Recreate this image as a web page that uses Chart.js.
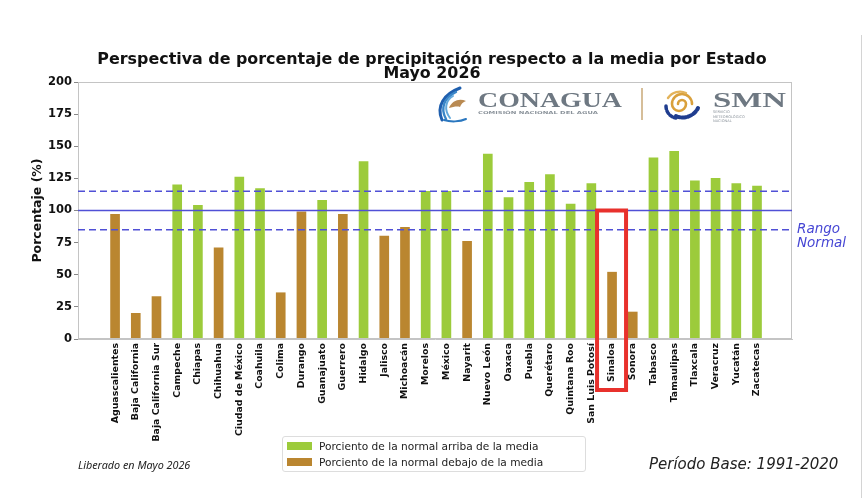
<!DOCTYPE html>
<html><head><meta charset="utf-8">
<script src="https://cdn.jsdelivr.net/npm/chart.js@4.4.1/dist/chart.umd.min.js"></script>
<style>
html,body{margin:0;padding:0;background:#fff;}
#wrap{position:relative;width:867px;height:498px;overflow:hidden;background:#fff;}
canvas{position:absolute;left:0;top:0;}
.t{position:absolute;white-space:nowrap;}
#title{left:0;width:864px;top:52px;text-align:center;font:bold 15.9px "DejaVu Sans",sans-serif;line-height:14px;color:#111;}
#legend{position:absolute;left:282px;top:436px;width:302px;height:34px;border:1px solid #ddd;border-radius:3px;background:#fff;}
.li{position:absolute;left:4px;font:10.6px "DejaVu Sans",sans-serif;color:#222;white-space:nowrap;}
.sw{display:inline-block;width:25px;height:8px;vertical-align:middle;margin-right:7px;position:relative;top:-1px;}
#lib{left:78px;top:457px;font:italic 10.8px "Noto Sans",sans-serif;color:#222;}
#base{left:649px;top:455px;font:oblique 15px "DejaVu Sans",sans-serif;color:#222;}
#vline{position:absolute;left:861px;top:35px;width:1px;height:463px;background:#d4d4d4;}
#logos{position:absolute;left:430px;top:84px;}
</style></head><body>
<div id="wrap">
<canvas id="c" width="867" height="498"></canvas>
<div class="t" id="title">Perspectiva de porcentaje de precipitación respecto a la media por Estado<br>Mayo 2026</div>
<svg id="logos" width="362" height="42" viewBox="0 0 362 42">
  <g fill="none" stroke-linecap="round">
    <path d="M30 4 C14 10 6 22 12 36" stroke="#1f5fae" stroke-width="3"/>
    <path d="M26 8 C14 14 10 24 16 35" stroke="#3a86c8" stroke-width="2.4"/>
    <path d="M23 12 C15 17 14 26 20 34" stroke="#63a9dc" stroke-width="2"/>
    <path d="M14 36 C20 38 30 38 36 35" stroke="#2a77bf" stroke-width="2"/>
  </g>
  <path d="M19 24 C22 16 30 14 36 17 C33 18 31 20 30 23 C27 22 23 23 19 24 Z" fill="#b98a52"/>
  <text x="48" y="23" textLength="144" lengthAdjust="spacingAndGlyphs" font-family="Liberation Serif" font-weight="bold" font-size="22" fill="#6e7882">CONAGUA</text>
  <text x="48" y="30" textLength="120" lengthAdjust="spacingAndGlyphs" font-family="DejaVu Sans" font-weight="bold" font-size="4" fill="#8a929a">COMISIÓN NACIONAL DEL AGUA</text>
  <line x1="212" y1="4" x2="212" y2="36" stroke="#c9a877" stroke-width="1.5"/>
  <g fill="none" stroke-linecap="round">
    <path d="M252 20 m-4 0 a4 4 0 1 1 8 0 a7 7 0 1 1 -14 0 a10 10 0 1 1 20 0" stroke="#d9a03c" stroke-width="2.6"/>
    <path d="M238 14 C242 8 250 6 256 9" stroke="#e3b35a" stroke-width="2.4"/>
    <path d="M246 32 C254 36 264 32 268 24" stroke="#1f3d8f" stroke-width="4" stroke-dasharray="4 2"/>
    <path d="M236 22 C236 28 240 33 246 34" stroke="#1f3d8f" stroke-width="3.5" stroke-dasharray="3 2"/>
  </g>
  <text x="283" y="23" textLength="73" lengthAdjust="spacingAndGlyphs" font-family="Liberation Serif" font-weight="bold" font-size="22" fill="#6e7882">SMN</text>
  <text x="283" y="29" font-family="DejaVu Sans" font-size="3.6" fill="#8a929a">SERVICIO</text>
  <text x="283" y="33.5" font-family="DejaVu Sans" font-size="3.6" fill="#8a929a">METEOROLÓGICO</text>
  <text x="283" y="38" font-family="DejaVu Sans" font-size="3.6" fill="#8a929a">NACIONAL</text>
</svg>
<div id="legend">
  <div class="li" style="top:3px"><span class="sw" id="sw0"></span><span id="lg0"></span></div>
  <div class="li" style="top:19px"><span class="sw" id="sw1"></span><span id="lg1"></span></div>
</div>
<div class="t" id="lib">Liberado en Mayo 2026</div>
<div class="t" id="base">Período Base: 1991-2020</div>
<div id="vline"></div>
</div>
<script>
const estados = ['Aguascalientes','Baja California','Baja California Sur','Campeche','Chiapas','Chihuahua','Ciudad de México','Coahuila','Colima','Durango','Guanajuato','Guerrero','Hidalgo','Jalisco','Michoacán','Morelos','México','Nayarit','Nuevo León','Oaxaca','Puebla','Querétaro','Quintana Roo','San Luis Potosí','Sinaloa','Sonora','Tabasco','Tamaulipas','Tlaxcala','Veracruz','Yucatán','Zacatecas'];
const porcentaje = [97,20,33,120,104,71,126,117,36,99,108,97,138,80,87,115,115,76,144,110,122,128,105,121,52,21,141,146,123,125,121,119];
const yTicks = [0,25,50,75,100,125,150,175,200];
const media = 100;
const rangoNormal = [85,115];
const estadoResaltado = 'Sinaloa';
const leyenda = ['Porciento de la normal arriba de la media','Porciento de la normal debajo de la media'];
const colorArriba = '#9ccb3b';
const colorDebajo = '#ba8630';
const colorLinea = '#5050d6';

document.getElementById('lg0').textContent = leyenda[0];
document.getElementById('lg1').textContent = leyenda[1];
document.getElementById('sw0').style.background = colorArriba;
document.getElementById('sw1').style.background = colorDebajo;

const extras = {
  id:'extras',
  afterDatasetsDraw(chart){
    const {ctx, chartArea:a, scales:{x,y}} = chart;
    ctx.save();
    ctx.strokeStyle = '#c4c4c4'; ctx.lineWidth = 1;
    ctx.strokeRect(a.left+0.5, a.top+0.5, a.right-a.left-1, a.bottom-a.top-1);
    ctx.strokeStyle = colorLinea; ctx.lineWidth = 1.5;
    const hl = (v, dash) => { const py = y.getPixelForValue(v); ctx.setLineDash(dash); ctx.beginPath(); ctx.moveTo(a.left, py); ctx.lineTo(a.right, py); ctx.stroke(); };
    hl(media, []);
    rangoNormal.forEach(v => hl(v, [7,4]));
    ctx.setLineDash([]);
    ctx.fillStyle = '#4646d4';
    ctx.font = 'italic 13.5px "DejaVu Sans"';
    ctx.textBaseline = 'middle'; ctx.textAlign = 'left';
    const ly = y.getPixelForValue(rangoNormal[0]);
    ctx.fillText('Rango', a.right + 5, ly);
    ctx.fillText('Normal', a.right + 5, ly + 14);
    ctx.restore();
  },
  afterDraw(chart){
    const {ctx, chartArea:a, scales:{x,y}} = chart;
    const i = estados.indexOf(estadoResaltado);
    const cx = x.getPixelForValue(i);
    const top = y.getPixelForValue(media);
    ctx.save();
    ctx.strokeStyle = '#e8312c'; ctx.lineWidth = 4;
    ctx.strokeRect(cx - 15, top, 29, a.bottom + 51 - top);
    ctx.restore();
  }
};

new Chart(document.getElementById('c'), {
  type:'bar',
  data:{
    datasets:[{
      data: porcentaje.map((v,i)=>({x:i, y:v})),
      backgroundColor: porcentaje.map(v => v > media ? colorArriba : colorDebajo),
      borderWidth: 0,
      barThickness: 9
    }]
  },
  options:{
    responsive:false, animation:false, devicePixelRatio:1,
    layout:{padding:{top:82, right:75, left:0, bottom:0}},
    plugins:{legend:{display:false}, tooltip:{enabled:false}},
    scales:{
      x:{
        type:'linear', min:-1.79, max:32.69, offset:false,
        grid:{drawOnChartArea:false, drawTicks:false},
        border:{color:'#c4c4c4'},
        afterBuildTicks: s => { s.ticks = estados.map((_,i)=>({value:i})); },
        afterFit: s => { s.height = 159; },
        ticks:{autoSkip:false, minRotation:90, maxRotation:90, padding:4, color:'#111',
          font:{family:'DejaVu Sans', weight:'bold', size:9.4},
          callback: v => estados[v]}
      },
      y:{
        min:0, max:200,
        afterBuildTicks: s => { s.ticks = yTicks.map(v=>({value:v})); },
        afterFit: s => { s.width = 78; },
        grid:{drawOnChartArea:false, tickLength:4, color:'#888'},
        border:{color:'#c4c4c4'},
        ticks:{padding:2, color:'#111', font:{family:'DejaVu Sans', weight:'bold', size:11.5}},
        title:{display:true, text:'Porcentaje (%)', color:'#111', font:{family:'DejaVu Sans', weight:'bold', size:12.5}, padding:{top:30, bottom:0}}
      }
    }
  },
  plugins:[extras]
});
</script>
</body></html>
